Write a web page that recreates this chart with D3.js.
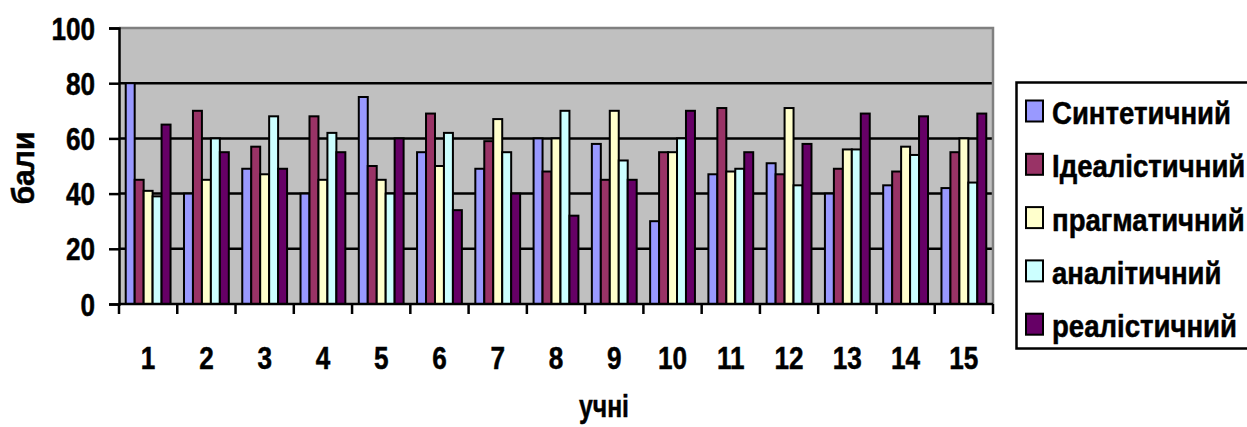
<!DOCTYPE html>
<html>
<head>
<meta charset="utf-8">
<script src="https://cdn.jsdelivr.net/npm/d3@7"></script>
<style>
  html, body { margin: 0; padding: 0; background: #ffffff; }
  svg { display: block; }
  text { font-family: 'Liberation Sans Narrow', 'Arial Narrow', 'Liberation Sans', Arial, sans-serif; font-weight: bold; fill: #000; stroke: #000; stroke-width: 0.5px; }
</style>
</head>
<body>
<svg id="chart" width="1247" height="427"></svg>
<script>
// ---- data ----
const categories = ["1","2","3","4","5","6","7","8","9","10","11","12","13","14","15"];
const seriesNames = ["Синтетичний","Ідеалістичний","прагматичний","аналітичний","реалістичний"];
const seriesColors = ["#9999FF","#993366","#FFFFCC","#CCFFFF","#660066"];
const sintetychnyi   = [80,40,49,40,75,55,49,60,58,30,47,51,40,43,42];
const idealistychnyi = [45,70,57,68,50,69,59,48,45,55,71,47,49,48,55];
const prahmatychnyi  = [41,45,47,45,45,50,67,60,70,55,48,71,56,57,60];
const analitychnyi   = [39,60,68,62,40,62,55,70,52,60,49,43,56,54,44];
const realistychnyi  = [65,55,49,55,60,34,40,32,45,70,55,58,69,68,69];
const yTicks = [0,20,40,60,80,100];
const yTitle = "бали";
const xTitle = "учні";

const seriesValues = [sintetychnyi, idealistychnyi, prahmatychnyi, analitychnyi, realistychnyi];

// horizontally condense text (narrow font look), keeping anchor position
function condense(sel, k) {
  sel.each(function() {
    const t = d3.select(this);
    const x = +t.attr("x") || 0, yy = +t.attr("y") || 0;
    const prev = t.attr("transform") || "";
    t.attr("x", 0).attr("y", 0).attr("transform", `${prev} translate(${x},${yy}) scale(${k},1)`);
  });
}
function condenseTo(sel, target) {
  const len = sel.node().getComputedTextLength();
  condense(sel, Math.min(1, target / len));
}

// ---- layout ----
const svg = d3.select("#chart");
const plot = {left: 119, right: 993, top: 28, bottom: 304};

const x0 = d3.scaleBand().domain(categories).range([plot.left, plot.right]).paddingInner(0).paddingOuter(0);
const bw = x0.bandwidth();
const barW = bw / 6.5;
const x1 = d3.scaleBand().domain(seriesNames).range([barW*0.75, bw - barW*0.75]).padding(0);
const y = d3.scaleLinear().domain([0, 100]).range([plot.bottom, plot.top]);

// plot background
svg.append("rect")
  .attr("x", plot.left).attr("y", plot.top)
  .attr("width", plot.right - plot.left).attr("height", plot.bottom - plot.top)
  .attr("fill", "#C0C0C0");

// gridlines
svg.append("g").selectAll("line")
  .data(yTicks.filter(t => t > 0 && t < 100))
  .join("line")
  .attr("x1", plot.left).attr("x2", plot.right)
  .attr("y1", d => y(d)).attr("y2", d => y(d))
  .attr("stroke", "#000").attr("stroke-width", 2.5);

// grey top/right border
svg.append("path")
  .attr("d", `M${plot.left},${plot.top}H${plot.right}V${plot.bottom}`)
  .attr("fill", "none").attr("stroke", "#808080").attr("stroke-width", 2.5);

// bars
const rows = [];
categories.forEach((c, i) => {
  seriesNames.forEach((s, j) => rows.push({cat: c, ser: s, v: seriesValues[j][i], color: seriesColors[j]}));
});
svg.append("g").selectAll("rect")
  .data(rows)
  .join("rect")
  .attr("x", d => x0(d.cat) + x1(d.ser))
  .attr("width", x1.bandwidth())
  .attr("y", d => y(d.v))
  .attr("height", d => y(0) - y(d.v))
  .attr("fill", d => d.color)
  .attr("stroke", "#000").attr("stroke-width", 2);

// y axis
const yAxis = d3.axisLeft(y).tickValues(yTicks).tickSize(10).tickPadding(14).tickFormat(d3.format("d"));
const gy = svg.append("g").attr("transform", `translate(${plot.left},0)`).call(yAxis);
gy.select(".domain").attr("stroke", "#000").attr("stroke-width", 2.5);
gy.selectAll(".tick line").attr("stroke", "#000").attr("stroke-width", 2.5);
const yLabels = gy.selectAll(".tick text").attr("font-size", 31.5).attr("font-family", null).attr("dy", "0.35em");
condense(yLabels, 0.83);

// x axis: ticks at category boundaries, labels centered
const gx = svg.append("g").attr("transform", `translate(0,${plot.bottom})`);
gx.append("line").attr("x1", plot.left).attr("x2", plot.right).attr("y1", 0).attr("y2", 0)
  .attr("stroke", "#000").attr("stroke-width", 2.5);
const boundaries = categories.map(c => x0(c)).concat([x0(categories[categories.length-1]) + bw]);
gx.selectAll("line.tk").data(boundaries).join("line").attr("class", "tk")
  .attr("x1", d => d).attr("x2", d => d).attr("y1", 0).attr("y2", 10)
  .attr("stroke", "#000").attr("stroke-width", 2.5);
const xLabels = gx.selectAll("text").data(categories).join("text")
  .attr("x", d => x0(d) + bw/2).attr("y", 54).attr("dy", "0.35em")
  .attr("text-anchor", "middle").attr("font-size", 31.5).text(d => d);
condense(xLabels, 0.83);

// axis titles
const yt = svg.append("text").attr("transform", `translate(34,168) rotate(-90)`)
  .attr("text-anchor", "middle").attr("font-size", 31.5).text(yTitle);
condenseTo(yt, 73);
const xt = svg.append("text").attr("x", 604).attr("y", 417)
  .attr("text-anchor", "middle").attr("font-size", 31.5).text(xTitle);
condenseTo(xt, 50);

// legend
const lg = svg.append("g");
lg.append("rect").attr("x", 1016.5).attr("y", 82.5).attr("width", 260).attr("height", 266)
  .attr("fill", "#fff").attr("stroke", "#000").attr("stroke-width", 2.5);
const items = lg.selectAll("g.it").data(seriesNames).join("g").attr("class", "it")
  .attr("transform", (d, i) => `translate(0,${111 + i*53.3})`);
items.append("rect").attr("x", 1026).attr("y", -10.5).attr("width", 17).attr("height", 21)
  .attr("fill", (d, i) => seriesColors[i]).attr("stroke", "#000").attr("stroke-width", 2);
const legTexts = items.append("text").attr("x", 1052).attr("y", 13).attr("font-size", 31.5).text(d => d);
const kLeg = Math.min(1, 179 / legTexts.filter((d, i) => i === 0).node().getComputedTextLength());
condense(legTexts, kLeg);
</script>
</body>
</html>
